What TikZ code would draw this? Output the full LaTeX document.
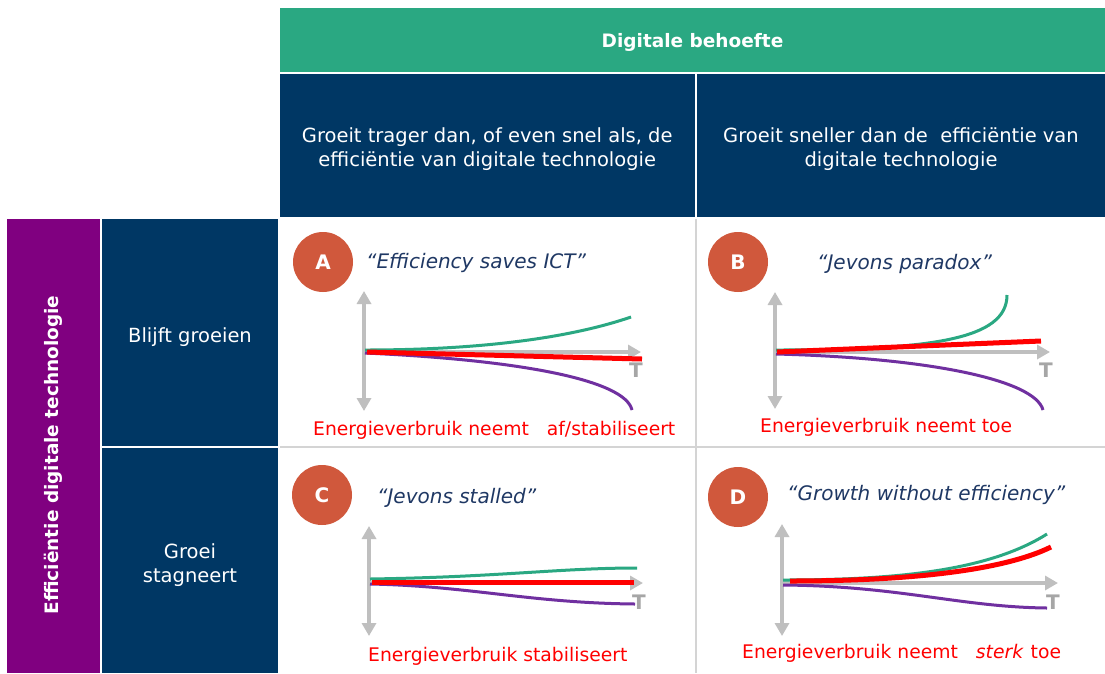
\documentclass[tikz,border=0pt]{standalone}
\usepackage{fontspec}
\setmainfont{DejaVu Sans}
\usetikzlibrary{arrows.meta}
\definecolor{hgreen}{HTML}{2AA882}
\definecolor{navy}{HTML}{003764}
\definecolor{purp}{HTML}{800080}
\definecolor{circ}{HTML}{D0583C}
\definecolor{axgray}{HTML}{BFBFBF}
\definecolor{tgray}{HTML}{A6A6A6}
\definecolor{gridgray}{HTML}{D4D4D4}
\definecolor{cgreen}{HTML}{2AA882}
\definecolor{cpurple}{HTML}{7030A0}
\definecolor{qnavy}{HTML}{1F3864}
\definecolor{cred}{HTML}{FF0000}
\newcommand\hdrfont{\fontsize{19.5}{24}\selectfont}
\newcommand\quotefont{\fontsize{20}{24}\selectfont\itshape}
\newcommand\redfont{\fontsize{18.75}{22}\selectfont}
\begin{document}
\begin{tikzpicture}[x=1pt,y=-1pt,
  box/.style={fill=#1, draw=none, inner sep=0pt, anchor=north west},
  boxtext/.style={text=white, align=center, inner sep=0pt, font=\hdrfont},
  letterc/.style={circle, fill=circ, draw=none, minimum size=60pt, inner sep=0pt, text=white, font=\fontsize{20}{24}\selectfont\bfseries},
  quote/.style={text=qnavy, font=\quotefont, inner sep=0pt, anchor=base west},
  redlab/.style={text=cred, font=\redfont, inner sep=0pt, anchor=base west},
  tlab/.style={text=tgray, font=\fontsize{20}{22}\selectfont\bfseries, inner sep=0pt},
  axis/.style={draw=axgray, line width=4pt, -{Triangle[length=13pt,width=14pt]}},
  gridline/.style={draw=gridgray, line width=1.5pt},
  gcurve/.style={draw=cgreen, line width=3pt},
  pcurve/.style={draw=cpurple, line width=3pt},
  rcurve/.style={draw=cred, line width=5pt}]
\useasboundingbox (0,0) rectangle (1105,673);
\fill[white] (0,0) rectangle (1105,673);

% headers
\node[box=hgreen, minimum width=825pt, minimum height=64pt] (dig) at (280,8) {};
\node[boxtext, font=\fontsize{18.5}{22}\selectfont\bfseries] (digt) at (692.5,42) {Digitale behoefte};
\node[box=navy, minimum width=414.5pt, minimum height=143pt] (h1) at (280,74) {};
\node[boxtext] (h1t) at (487.25,149.5) {Groeit trager dan, of even snel als, de\\efficiëntie van digitale technologie};
\node[box=navy, minimum width=408pt, minimum height=143pt] (h2) at (697,74) {};
\node[boxtext] (h2t) at (901,149.5) {Groeit sneller dan de\ \ efficiëntie van\\digitale technologie};

% row headers
\node[box=purp, minimum width=93pt, minimum height=454pt] (eff) at (7,219) {};
\node[text=white, font=\fontsize{18.5}{22}\selectfont\bfseries, rotate=90, inner sep=0pt] (efftxt) at (53.5,455) {Efficiëntie digitale technologie};
\node[box=navy, minimum width=176pt, minimum height=227pt] (r1) at (102,219) {};
\node[boxtext] (r1t) at (190,337.5) {Blijft groeien};
\node[box=navy, minimum width=176pt, minimum height=225pt] (r2) at (102,448) {};
\node[boxtext] (r2t) at (190,565.5) {Groei\\stagneert};

% grid lines
\draw[gridline] (696,219) -- (696,673);
\draw[gridline] (280,447) -- (1105,447);

% ---------- A ----------
\node[letterc] (ca) at (323,262) {A};
\node[quote] (qa) at (366,268) {“Efficiency saves ICT”};
\coordinate (oA) at (364,352);
\coordinate (upA) at (364,291);
\coordinate (dnA) at (364,411);
\coordinate (rtA) at (641,352);
\draw[axis] (oA) -- (upA);
\draw[axis] (oA) -- (dnA);
\draw[axis] (oA) -- (rtA);
\node[tlab] (tA) at (636,370) {T};
\draw[gcurve] (365,350) .. controls (480,350) and (570,338) .. (631,317);
\draw[pcurve] (365,353) .. controls (520,360) and (625,380) .. (632,410);
\draw[rcurve] (367,352) -- (642,359);
\node[redlab] (la) at (313,435) {Energieverbruik neemt\hspace{12pt} af/stabiliseert};

% ---------- B ----------
\node[letterc] (cb) at (738,262) {B};
\node[quote] (qb) at (817,269) {“Jevons paradox”};
\coordinate (oB) at (775,352);
\coordinate (upB) at (775,292);
\coordinate (dnB) at (775,409);
\coordinate (rtB) at (1050,352);
\draw[axis] (oB) -- (upB);
\draw[axis] (oB) -- (dnB);
\draw[axis] (oB) -- (rtB);
\node[tlab] (tB) at (1046,370) {T};
\draw[gcurve] (776,350) .. controls (930,350) and (1007,340) .. (1007,295);
\draw[pcurve] (776,354) .. controls (930,358) and (1035,380) .. (1043,410);
\draw[rcurve] (777,352) -- (1041,341);
\node[redlab] (lb) at (760,432) {Energieverbruik neemt toe};

% ---------- C ----------
\node[letterc] (cc) at (322,495) {C};
\node[quote] (qc) at (377,503) {“Jevons stalled”};
\coordinate (oC) at (369,583);
\coordinate (upC) at (369,526);
\coordinate (dnC) at (369,636);
\coordinate (rtC) at (643,583);
\draw[axis] (oC) -- (upC);
\draw[axis] (oC) -- (dnC);
\draw[axis] (oC) -- (rtC);
\node[tlab] (tC) at (639,602) {T};
\draw[gcurve] (370,579) .. controls (500,577) and (560,568) .. (637,568);
\draw[pcurve] (370,584) .. controls (470,586) and (530,603) .. (635,604);
\draw[rcurve] (372,582) -- (634,582);
\node[redlab] (lc) at (368,661) {Energieverbruik stabiliseert};

% ---------- D ----------
\node[letterc] (cd) at (738,497) {D};
\node[quote] (qd) at (787,500) {“Growth without efficiency”};
\coordinate (oD) at (782,583);
\coordinate (upD) at (782,524);
\coordinate (dnD) at (782,636);
\coordinate (rtD) at (1058,583);
\draw[axis] (oD) -- (upD);
\draw[axis] (oD) -- (dnD);
\draw[axis] (oD) -- (rtD);
\node[tlab] (tD) at (1053,602) {T};
\draw[gcurve] (783,580) .. controls (900,580) and (990,570) .. (1047,534);
\draw[pcurve] (783,585) .. controls (900,586) and (960,607) .. (1047,608);
\draw[rcurve] (790,581) .. controls (900,581) and (1000,572) .. (1051,547);
\node[redlab] (ld) at (742,658) {Energieverbruik neemt\hspace{12pt} \textit{sterk}\hspace{1pt} toe};
\end{tikzpicture}
\end{document}
